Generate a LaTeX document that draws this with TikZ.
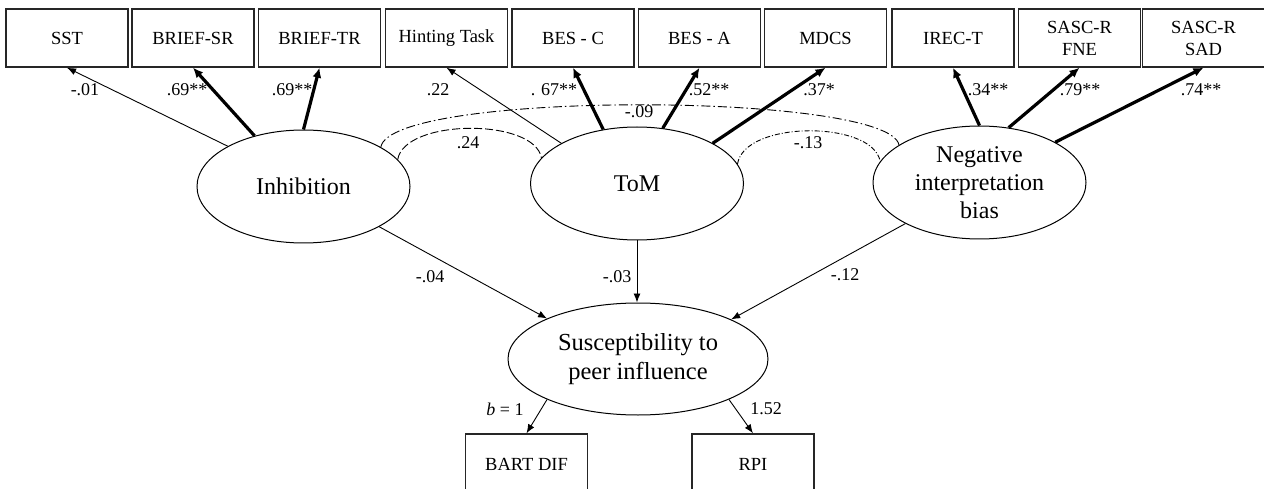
\documentclass[tikz,border=0pt]{standalone}
\usepackage{fontspec}
\setmainfont{Liberation Serif}
\usetikzlibrary{arrows.meta,shapes.geometric}
\begin{document}
\begin{tikzpicture}[x=1pt,y=-1pt,
 obs/.style={draw=black!85,line width=1.4pt,minimum width=122pt,minimum height=58pt,inner sep=0pt,align=center,font=\fontsize{18.5}{22}\selectfont},
 lat/.style={draw,ellipse,line width=1pt,minimum width=213pt,minimum height=113pt,inner sep=0pt,align=center,font=\fontsize{24}{28}\selectfont},
 weakpath/.style={line width=0.9pt,-{Latex[length=9pt,width=7pt]}},
 strongpath/.style={line width=3.2pt,-{Latex[length=10pt,width=9pt]}},
 lbl/.style={font=\fontsize{18}{21}\selectfont,inner sep=0pt},
 covline/.style={line width=0.9pt}]
\useasboundingbox (0,0) rectangle (1264,489);
\clip (0,0) rectangle (1264,489);
% observed indicators
\node[obs] (sst) at (67,38) {SST};
\node[obs] (briefsr) at (193,38) {BRIEF-SR};
\node[obs] (brieftr) at (319.5,38) {BRIEF-TR};
\node[obs] (hint) at (446.5,38) {Hinting Task};
\node[obs] (besc) at (573,38) {BES - C};
\node[obs] (besa) at (699.5,38) {BES - A};
\node[obs] (mdcs) at (825.5,38) {MDCS};
\node[obs] (irec) at (953,38) {IREC-T};
\node[obs] (fne) at (1079.5,38) {SASC-R\\FNE};
\node[obs] (sad) at (1203.5,38) {SASC-R\\SAD};
% latent variables
\node[lat] (inh) at (303.5,186.5) {Inhibition};
\node[lat] (tom) at (637,183.5) {ToM};
\node[lat] (neg) at (979.5,182.5) {Negative\\interpretation\\bias};
\node[lat,minimum width=260pt,minimum height=112pt,font=\fontsize{24.5}{29}\selectfont] (sus) at (638,359) {Susceptibility to\\peer influence};
\node[obs,minimum height=60pt] (bart) at (526.5,464) {BART DIF};
\node[obs,minimum height=60pt] (rpi) at (753,464) {RPI};
% loadings
\draw[weakpath] (inh.152) -- (sst.south);
\draw[strongpath] (inh.134) -- (briefsr.south);
\draw[strongpath] (inh.90) -- (brieftr.south);
\draw[weakpath] (tom.152) -- (hint.south);
\draw[strongpath] (tom.122) -- (besc.south);
\draw[strongpath] (tom.65) -- (besa.south);
\draw[strongpath] (tom.28) -- (mdcs.south);
\draw[strongpath] (neg.90) -- (irec.south);
\draw[strongpath] (neg.62) -- (fne.south);
\draw[strongpath] (neg.28) -- (sad.south);
\node[lbl] (l1) at (85,90) {-.01};
\node[lbl] (l2) at (187,90) {.69**};
\node[lbl] (l3) at (292,90) {.69**};
\node[lbl] (l4) at (438,90) {.22};
\node[lbl] (l5) at (554,90) {. 67**};
\node[lbl] (l6) at (709,90) {.52**};
\node[lbl] (l7) at (819,90) {.37*};
\node[lbl] (l8) at (988,90) {.34**};
\node[lbl] (l9) at (1080,90) {.79**};
\node[lbl] (l10) at (1201,90) {.74**};
% covariances
\draw[covline,dash pattern=on 8pt off 3pt] (inh.16) .. controls +(7,-41) and +(-7,-40) .. (tom.165);
\draw[covline,dash pattern=on 5pt off 2pt on 1pt off 2pt] (tom.11) .. controls +(7,-44) and +(-7,-41) .. (neg.168);
\draw[covline,dash pattern=on 9pt off 3pt on 1.5pt off 3pt] (inh.27) .. controls +(10,-57) and +(-10,-53) .. (neg.155);
\node[lbl] (c1) at (468,143) {.24};
\node[lbl] (c2) at (808,143) {-.13};
\node[lbl] (c3) at (639,112) {-.09};
% structural paths
\draw[weakpath] (inh.332) -- (sus.156);
\draw[weakpath] (tom.south) -- (tom.south |- sus.north);
\draw[weakpath] (neg.209) -- (sus.23);
\node[lbl] (s1) at (430,277) {-.04};
\node[lbl] (s2) at (617,277) {-.03};
\node[lbl] (s3) at (845,275) {-.12};
% measurement of outcome
\draw[weakpath] (sus.204) -- (bart.north);
\draw[weakpath] (sus.336) -- (rpi.north);
\node[lbl] (o1) at (505,409) {\textit{b} = 1};
\node[lbl] (o2) at (766,409) {1.52};
\end{tikzpicture}
\end{document}
